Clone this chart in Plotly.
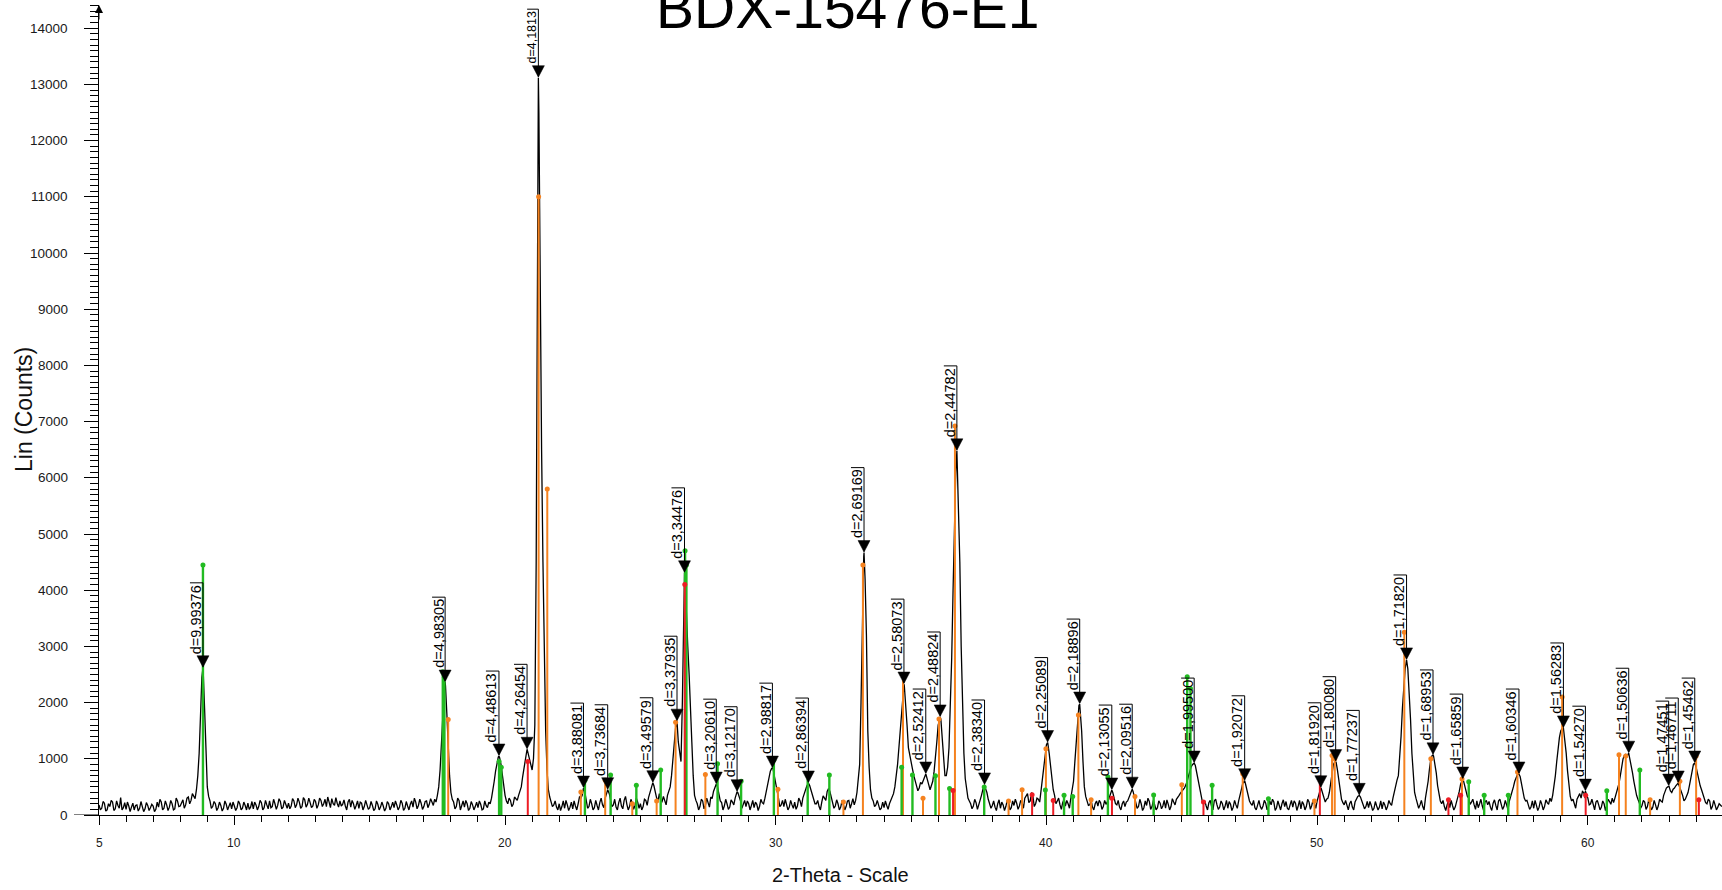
import plotly.graph_objects as go

# ------------------------------------------------------------------
# Data
# ------------------------------------------------------------------
two_theta_start = 5.0
two_theta_step = 0.1
# counts at 5.0, 5.1, 5.2 ...
counts = [
    180, 120, 210, 90, 150, 230, 110, 170, 310, 130,          # 5
    100, 160, 140, 90, 180, 120, 150, 110, 170, 130,          # 6
    160, 100, 140, 230, 120, 180, 140, 200, 110, 250,         # 7
    160, 270, 180, 320, 260, 330, 450, 1100, 2450, 1900,      # 8
    500, 250, 150, 200, 130, 170, 120, 190, 150, 110,         # 9
    160, 130, 200, 120, 170, 210, 140, 110, 180, 150,         # 10
    220, 130, 180, 250, 150, 200, 170, 240, 140, 190,         # 11
    210, 160, 250, 180, 230, 150, 270, 190, 220, 160,         # 12
    240, 180, 260, 200, 150, 230, 290, 170, 210, 250,         # 13
    190, 160, 230, 140, 200, 170, 120, 210, 150, 180,         # 14
    130, 170, 110, 190, 140, 160, 120, 200, 150, 130,         # 15
    180, 140, 210, 120, 160, 190, 140, 230, 170, 210,         # 16
    150, 250, 190, 230, 280, 350, 800, 1900, 2300, 1100,      # 17
    400, 230, 150, 260, 170, 140, 200, 120, 180, 150,         # 18
    130, 190, 110, 170, 230, 300, 600, 950, 1020, 700,        # 19
    350, 200, 260, 190, 280, 350, 500, 850, 1150, 1000,       # 20
    800, 1600, 11500, 8500, 4500, 1500, 450, 230, 180, 140,   # 21
    200, 150, 120, 180, 140, 110, 160, 200, 300, 470,         # 22
    250, 150, 200, 130, 170, 220, 180, 300, 440, 250,         # 23
    180, 140, 220, 160, 260, 190, 150, 210, 170, 230,         # 24
    200, 150, 260, 310, 450, 520, 300, 380, 240, 270,         # 25
    350, 500, 950, 1550, 1300, 950, 3900, 3500, 2500, 1300,   # 26
    350, 200, 150, 250, 170, 220, 320, 420, 545, 380,         # 27
    220, 160, 200, 140, 230, 300, 400, 250, 180, 150,         # 28
    200, 170, 130, 190, 150, 220, 300, 500, 780, 820,         # 29
    550, 300, 180, 150, 200, 140, 180, 230, 160, 250,         # 30
    300, 450, 560, 450, 280, 200, 150, 230, 300, 420,         # 31
    420, 250, 160, 200, 140, 180, 150, 260, 200, 180,         # 32
    400, 900, 3600, 4200, 1500, 450, 250, 180, 150, 120,      # 33
    130, 170, 200, 300, 500, 900, 1500, 2200, 2000, 1200,     # 34
    900, 700, 550, 480, 550, 700, 650, 450, 600, 1000,        # 35
    1600, 1700, 900, 700, 1200, 2800, 5400, 6350, 4500, 1800, # 36
    650, 300, 200, 160, 220, 180, 350, 520, 400, 200,         # 37
    170, 140, 200, 120, 180, 150, 230, 130, 170, 210,         # 38
    160, 220, 300, 380, 250, 330, 200, 280, 450, 800,         # 39
    1250, 1100, 600, 350, 250, 180, 220, 160, 200, 300,       # 40
    600, 1300, 1950, 1500, 500, 250, 180, 140, 200, 160,      # 41
    220, 150, 190, 280, 420, 300, 180, 140, 200, 150,         # 42
    250, 380, 420, 230, 150, 200, 130, 170, 240, 150,         # 43
    180, 130, 210, 160, 120, 190, 150, 230, 280, 350,         # 44
    420, 480, 600, 800, 900, 880, 600, 350, 200, 160,         # 45
    220, 150, 250, 180, 140, 200, 160, 120, 190, 140,         # 46
    180, 250, 450, 600, 450, 250, 170, 130, 190, 150,         # 47
    160, 210, 140, 180, 230, 130, 170, 200, 150, 120,         # 48
    180, 140, 210, 160, 110, 190, 150, 230, 170, 200,         # 49
    250, 440, 380, 230, 300, 550, 900, 940, 600, 280,         # 50
    180, 150, 200, 140, 230, 330, 320, 200, 150, 130,         # 51
    170, 120, 160, 140, 110, 180, 150, 200, 300, 550,         # 52
    700, 1400, 2300, 2750, 2200, 1100, 400, 200, 180, 150,    # 53
    300, 600, 1000, 1050, 750, 350, 200, 150, 180, 130,       # 54
    170, 140, 300, 550, 620, 400, 300, 230, 180, 250,         # 55
    200, 160, 230, 180, 140, 210, 170, 250, 190, 150,         # 56
    180, 250, 400, 600, 720, 680, 400, 250, 180, 140,         # 57
    120, 170, 140, 190, 150, 220, 300, 350, 700, 1200,        # 58
    1500, 1550, 1100, 500, 250, 200, 280, 380, 420, 300,      # 59
    300, 200, 160, 230, 180, 140, 200, 170, 240, 300,         # 60
    300, 450, 700, 1000, 1080, 1090, 900, 600, 350, 220,      # 61
    170, 230, 150, 200, 140, 180, 160, 250, 350, 480,         # 62
    510, 400, 480, 560, 500, 350, 280, 400, 650, 900,         # 63
    850, 600, 450, 300, 200, 250, 150, 180, 140,              # 64
]
# counts at the half steps 5.05, 5.15, 5.25 ...
counts_half_step = [
    90, 240, 70, 200, 260, 80, 250, 120, 90, 220,             # 5
    230, 60, 210, 170, 70, 240, 60, 220, 80, 190,             # 6
    60, 230, 280, 90, 250, 80, 260, 90, 300, 150,             # 7
    230, 120, 300, 200, 380, 290, 700, 1800, 2550, 1200,      # 8
    330, 120, 240, 80, 230, 70, 250, 90, 220, 230,            # 9
    80, 250, 90, 230, 90, 100, 240, 230, 90, 260,             # 10
    90, 260, 110, 130, 280, 100, 290, 110, 260, 120,          # 11
    110, 290, 130, 300, 120, 310, 140, 300, 130, 280,         # 12
    120, 300, 150, 280, 320, 130, 200, 310, 140, 160,         # 13
    270, 90, 280, 260, 100, 250, 230, 90, 260, 100,           # 14
    240, 80, 250, 90, 230, 70, 240, 90, 230, 250,             # 15
    90, 260, 80, 240, 90, 250, 300, 110, 280, 100,            # 16
    240, 130, 290, 170, 230, 500, 1300, 2200, 1800, 700,      # 17
    280, 110, 300, 90, 250, 260, 80, 240, 90, 230,            # 18
    250, 90, 250, 130, 200, 420, 780, 1030, 900, 500,         # 19
    250, 300, 150, 320, 260, 420, 680, 1050, 1100, 850,       # 20
    1000, 4500, 12500, 6500, 2800, 800, 320, 150, 250, 90,    # 21
    80, 250, 260, 80, 230, 250, 90, 320, 350, 400,            # 22
    120, 280, 90, 260, 90, 300, 130, 380, 380, 150,           # 23
    280, 90, 300, 110, 330, 90, 280, 100, 300, 120,           # 24
    90, 280, 170, 400, 570, 380, 250, 260, 330, 180,          # 25
    420, 700, 1300, 1660, 1100, 2000, 4200, 3000, 2000, 700,  # 26
    260, 90, 280, 110, 300, 140, 290, 500, 500, 250,          # 27
    90, 280, 100, 270, 180, 380, 330, 120, 260, 250,          # 28
    90, 260, 230, 80, 280, 200, 420, 650, 830, 700,           # 29
    420, 150, 260, 280, 90, 260, 120, 100, 300, 150,          # 30
    380, 520, 530, 360, 200, 260, 90, 340, 260, 470,          # 31
    330, 120, 270, 90, 260, 90, 250, 120, 290, 260,           # 32
    600, 2000, 4600, 3200, 850, 300, 150, 260, 90, 230,       # 33
    250, 100, 260, 380, 680, 1200, 1900, 2300, 1600, 1050,    # 34
    820, 600, 430, 580, 620, 720, 540, 520, 780, 1300,        # 35
    1720, 1300, 700, 850, 1900, 4000, 6100, 5600, 3000, 1100, # 36
    450, 250, 110, 280, 100, 240, 450, 470, 280, 120,         # 37
    250, 80, 270, 230, 80, 260, 90, 250, 280, 100,            # 38
    260, 120, 350, 220, 400, 150, 300, 230, 600, 1050,        # 39
    1280, 850, 450, 200, 300, 100, 280, 260, 120, 420,        # 40
    950, 1700, 1850, 950, 330, 170, 260, 90, 250, 260,        # 41
    100, 260, 230, 350, 400, 200, 260, 90, 250, 230,          # 42
    320, 455, 320, 120, 280, 80, 250, 300, 100, 260,          # 43
    90, 250, 110, 260, 270, 90, 290, 180, 330, 390,           # 44
    450, 540, 700, 860, 920, 760, 470, 260, 250, 90,          # 45
    260, 90, 280, 100, 250, 90, 260, 240, 80, 260,            # 46
    120, 330, 560, 560, 330, 200, 260, 90, 260, 100,          # 47
    260, 90, 250, 280, 80, 250, 90, 270, 240, 90,             # 48
    260, 250, 80, 260, 240, 90, 280, 100, 270, 120,           # 49
    330, 470, 290, 280, 400, 720, 940, 800, 420, 220,         # 50
    260, 90, 250, 90, 280, 345, 260, 110, 240, 240,           # 51
    80, 240, 90, 250, 230, 90, 260, 170, 420, 620,            # 52
    1000, 1900, 2600, 2600, 1700, 700, 300, 120, 260, 90,     # 53
    420, 820, 1060, 920, 520, 250, 260, 80, 250, 260,         # 54
    90, 220, 420, 620, 520, 330, 190, 280, 100, 130,          # 55
    280, 80, 260, 240, 80, 270, 90, 280, 100, 260,            # 56
    90, 320, 500, 680, 725, 550, 300, 260, 100, 250,          # 57
    260, 80, 260, 90, 270, 190, 240, 500, 950, 1380,          # 58
    1540, 1350, 780, 330, 280, 120, 330, 300, 400, 380,       # 59
    180, 280, 90, 260, 90, 250, 80, 280, 190, 220,            # 60
    380, 560, 870, 1060, 1050, 1000, 750, 460, 280, 120,      # 61
    260, 100, 270, 90, 260, 90, 280, 230, 420, 500,           # 62
    430, 460, 520, 550, 420, 250, 350, 520, 800, 920,         # 63
    720, 520, 380, 220, 280, 100, 260, 90, 200, 150,          # 64
]

# labelled peaks (2-theta, peak-top counts, d-spacing label)
peak_two_theta = [8.841, 17.786, 19.775, 20.813, 21.231, 22.897, 23.792, 25.459,
                  26.352, 26.629, 27.803, 28.571, 29.877, 31.206, 33.261, 34.736,
                  35.542, 36.073, 36.691, 37.713, 40.042, 41.228, 42.414, 43.168,
                  45.457, 47.322, 50.136, 50.684, 51.555, 53.303, 54.280, 55.378,
                  57.455, 59.097, 59.910, 61.510, 62.986, 63.340, 63.949]
peak_counts = [2620, 2365, 1050, 1170, 13120, 480, 450, 575,
               1670, 4310, 550, 415, 835, 570, 4670, 2330,
               730, 1745, 6480, 535, 1290, 1975, 445, 460,
               925, 610, 485, 950, 350, 2760, 1070, 640,
               730, 1550, 425, 1100, 515, 570, 925]
peak_d_labels = ["d=9,99376", "d=4,98305", "d=4,48613", "d=4,26454", "d=4,1813",
                 "d=3,88081", "d=3,73684", "d=3,49579", "d=3,37935", "d=3,34476",
                 "d=3,20610", "d=3,12170", "d=2,98817", "d=2,86394", "d=2,69169",
                 "d=2,58073", "d=2,52412", "d=2,48824", "d=2,44782", "d=2,38340",
                 "d=2,25089", "d=2,18896", "d=2,13055", "d=2,09516", "d=1,99500",
                 "d=1,92072", "d=1,81920", "d=1,80080", "d=1,77237", "d=1,71820",
                 "d=1,68953", "d=1,65859", "d=1,60346", "d=1,56283", "d=1,54270",
                 "d=1,50636", "d=1,47451", "d=1,46711", "d=1,45462"]

# reference stick patterns
green_two_theta = [8.84, 17.70, 17.76, 19.78, 19.86, 22.95, 23.90, 24.85, 25.75, 26.65,
                   26.70, 27.85, 28.72, 29.93, 31.18, 31.98, 34.65, 35.05, 35.90, 36.42,
                   37.70, 39.96, 40.65, 40.97, 42.27, 43.96, 45.20, 45.32, 46.12, 48.20,
                   55.60, 56.17, 57.06, 60.70, 61.92]
green_counts = [4450, 2550, 2450, 950, 850, 620, 710, 530, 800, 4700,
                4450, 910, 600, 980, 710, 710, 850, 710, 700, 470,
                500, 445, 350, 330, 675, 355, 2460, 2250, 530, 290,
                590, 350, 350, 430, 800]

orange_two_theta = [17.90, 21.24, 21.56, 22.80, 23.70, 24.70, 25.60, 26.30, 27.40, 30.08,
                    32.50, 33.22, 34.70, 35.44, 36.03, 36.62, 38.60, 39.10, 39.98, 41.18,
                    41.65, 43.27, 45.00, 47.25, 49.90, 50.55, 50.65, 53.22, 54.20, 55.35,
                    57.40, 59.05, 61.15, 61.40, 62.30, 63.40, 64.00]
orange_counts = [1700, 11000, 5800, 410, 620, 200, 250, 1650, 720, 460,
                 230, 4450, 2500, 300, 1710, 6920, 250, 450, 1180, 1780,
                 270, 330, 540, 735, 250, 1060, 1000, 3250, 1000, 640,
                 765, 2100, 1070, 1050, 270, 600, 1050]

red_two_theta = [20.84, 26.64, 36.55, 39.47, 40.25, 42.42, 45.80, 50.10, 54.85, 55.30,
                 59.92, 64.10]
red_counts = [950, 4100, 435, 360, 260, 300, 230, 660, 270, 350, 350, 270]

x_tick_values = [5, 10, 20, 30, 40, 50, 60]
x_tick_labels = ["5", "10", "20", "30", "40", "50", "60"]
y_tick_values = [0, 1000, 2000, 3000, 4000, 5000, 6000, 7000, 8000, 9000,
                 10000, 11000, 12000, 13000, 14000]
y_tick_labels = ["0", "1000", "2000", "3000", "4000", "5000", "6000", "7000",
                 "8000", "9000", "10000", "11000", "12000", "13000", "14000"]

# ------------------------------------------------------------------
# Build figure
# ------------------------------------------------------------------
FONT = "Arial, Liberation Sans, sans-serif"
W, H = 1722, 890
ML, MR, MT, MB = 99, 0, 5, 75
PW, PH = W - ML - MR, H - MT - MB
PX_PER_DEG = 27.07
PX_PER_COUNT = 0.0562


def px_to_paper_x(px):
    return (px - ML) / PW


def px_to_paper_y(py):
    return (H - MB - py) / PH


grid_x = [round(two_theta_start + i * two_theta_step, 3) for i in range(len(counts))]
half_x = [round(two_theta_start + (i + 0.5) * two_theta_step, 3)
          for i in range(len(counts_half_step))]
pts = sorted(list(zip(grid_x, counts)) + list(zip(half_x, counts_half_step))
             + list(zip(peak_two_theta, peak_counts)))
trace_x = [p[0] for p in pts]
trace_y = [p[1] for p in pts]


def sticks(xs, ys):
    sx, sy = [], []
    for x, y in zip(xs, ys):
        sx += [x, x, None]
        sy += [0, y, None]
    return sx, sy


fig = go.Figure()
fig.add_trace(go.Scatter(x=trace_x, y=trace_y, mode="lines",
                         line=dict(color="black", width=1.3), hoverinfo="skip"))

for xs, ys, col, lw in [(orange_two_theta, orange_counts, "#f5821f", 2.0),
                        (green_two_theta, green_counts, "#22bb22", 2.4),
                        (red_two_theta, red_counts, "#ee1c24", 2.0)]:
    sx, sy = sticks(xs, ys)
    fig.add_trace(go.Scatter(x=sx, y=sy, mode="lines",
                             line=dict(color=col, width=lw), hoverinfo="skip"))
    fig.add_trace(go.Scatter(x=xs, y=ys, mode="markers",
                             marker=dict(color=col, size=5), hoverinfo="skip"))

char_w = {"d": 0.556, "=": 0.584, ",": 0.278}
label_font = 14.5
top_peak = max(peak_counts)
shapes = []
annotations = []
for x, y, lab in zip(peak_two_theta, peak_counts, peak_d_labels):
    fs = 12.5 if y == top_peak else label_font
    tw = sum(char_w.get(c, 0.556) for c in lab) * fs
    gap = 13
    top = gap + tw + 3
    shapes.append(dict(type="path", xref="x", yref="y", xsizemode="pixel",
                       ysizemode="pixel", xanchor=x, yanchor=y,
                       path="M -6,12 L 6,12 L 0,0.5 Z",
                       fillcolor="black", line=dict(color="black", width=0.5)))
    shapes.append(dict(type="line", xref="x", yref="y", x0=x, x1=x,
                       ysizemode="pixel", yanchor=y, y0=1, y1=top,
                       line=dict(color="black", width=1)))
    shapes.append(dict(type="line", xref="x", yref="y", xsizemode="pixel",
                       xanchor=x, x0=-fs * 0.9, x1=0,
                       ysizemode="pixel", yanchor=y, y0=top, y1=top,
                       line=dict(color="black", width=1)))
    annotations.append(dict(x=x, y=y, xref="x", yref="y", text=lab, textangle=-90,
                            showarrow=False, xanchor="right", yanchor="bottom",
                            xshift=2, yshift=gap, borderpad=0,
                            font=dict(family=FONT, size=fs, color="black")))

# x axis extension to the left of the y axis (as in the reference)
shapes.append(dict(type="line", xref="paper", yref="y", x0=px_to_paper_x(74), x1=0,
                   y0=0, y1=0, line=dict(color="black", width=1)))

# tick labels
for v, t in zip(x_tick_values, x_tick_labels):
    annotations.append(dict(text=t, x=v, xref="x", y=px_to_paper_y(843), yref="paper",
                            xanchor="center", yanchor="middle", showarrow=False,
                            borderpad=0, font=dict(family=FONT, size=12, color="#1a1a1a")))
for v, t in zip(y_tick_values, y_tick_labels):
    annotations.append(dict(text=t, x=px_to_paper_x(69), xref="paper", y=v, yref="y",
                            xanchor="right", yanchor="middle", showarrow=False,
                            borderpad=0, font=dict(family=FONT, size=13.5, color="#1a1a1a")))

# title (clipped at the top, as in the reference)
annotations.append(dict(text="BDX-15476-E1", xref="paper", yref="paper",
                        x=px_to_paper_x(847), y=px_to_paper_y(41),
                        xanchor="center", yanchor="bottom", showarrow=False,
                        borderpad=0,
                        font=dict(family=FONT, size=57, color="black")))
# axis titles
annotations.append(dict(text="Lin (Counts)", xref="paper", yref="paper",
                        x=px_to_paper_x(24), y=px_to_paper_y(410), textangle=-90,
                        xanchor="center", yanchor="middle", showarrow=False,
                        font=dict(family=FONT, size=23, color="#111111")))
annotations.append(dict(text="2-Theta - Scale", xref="paper", yref="paper",
                        x=px_to_paper_x(840), y=px_to_paper_y(875),
                        xanchor="center", yanchor="middle", showarrow=False,
                        font=dict(family=FONT, size=20, color="#111111")))
# arrow on top of y axis
annotations.append(dict(text="", xref="paper", yref="paper", x=0, y=px_to_paper_y(5),
                        ax=0, ay=16, showarrow=True, arrowhead=2, arrowsize=1.6,
                        arrowwidth=1, arrowcolor="black"))

y_top = PH / PX_PER_COUNT

fig.update_layout(
    width=W, height=H,
    margin=dict(l=ML, r=MR, t=MT, b=MB, pad=0),
    paper_bgcolor="white", plot_bgcolor="white",
    showlegend=False,
    font=dict(family=FONT, color="#111111"),
    shapes=shapes, annotations=annotations,
    xaxis=dict(range=[5, 5 + PW / PX_PER_DEG], showline=True, linecolor="black",
               linewidth=1, ticks="outside", tickvals=x_tick_values,
               showticklabels=False, ticklen=9, tickwidth=1, tickcolor="black",
               minor=dict(tick0=5, dtick=1, ticks="outside", ticklen=6,
                          tickcolor="black", tickwidth=1),
               showgrid=False, zeroline=False),
    yaxis=dict(range=[0, y_top], showline=True, linecolor="black", linewidth=1,
               ticks="outside", tickvals=y_tick_values, ticklen=14, tickwidth=1,
               tickcolor="black", showticklabels=False,
               minor=dict(tick0=0, dtick=100, ticks="outside", ticklen=8,
                          tickcolor="black", tickwidth=1),
               showgrid=False, zeroline=False),
)

# the page body has a default 8px margin; remove it so the figure sits at the
# top-left corner of the browser window like the reference image
fig.write_html("out.html", config={"displayModeBar": False},
               post_script="document.body.style.margin='0px';")
